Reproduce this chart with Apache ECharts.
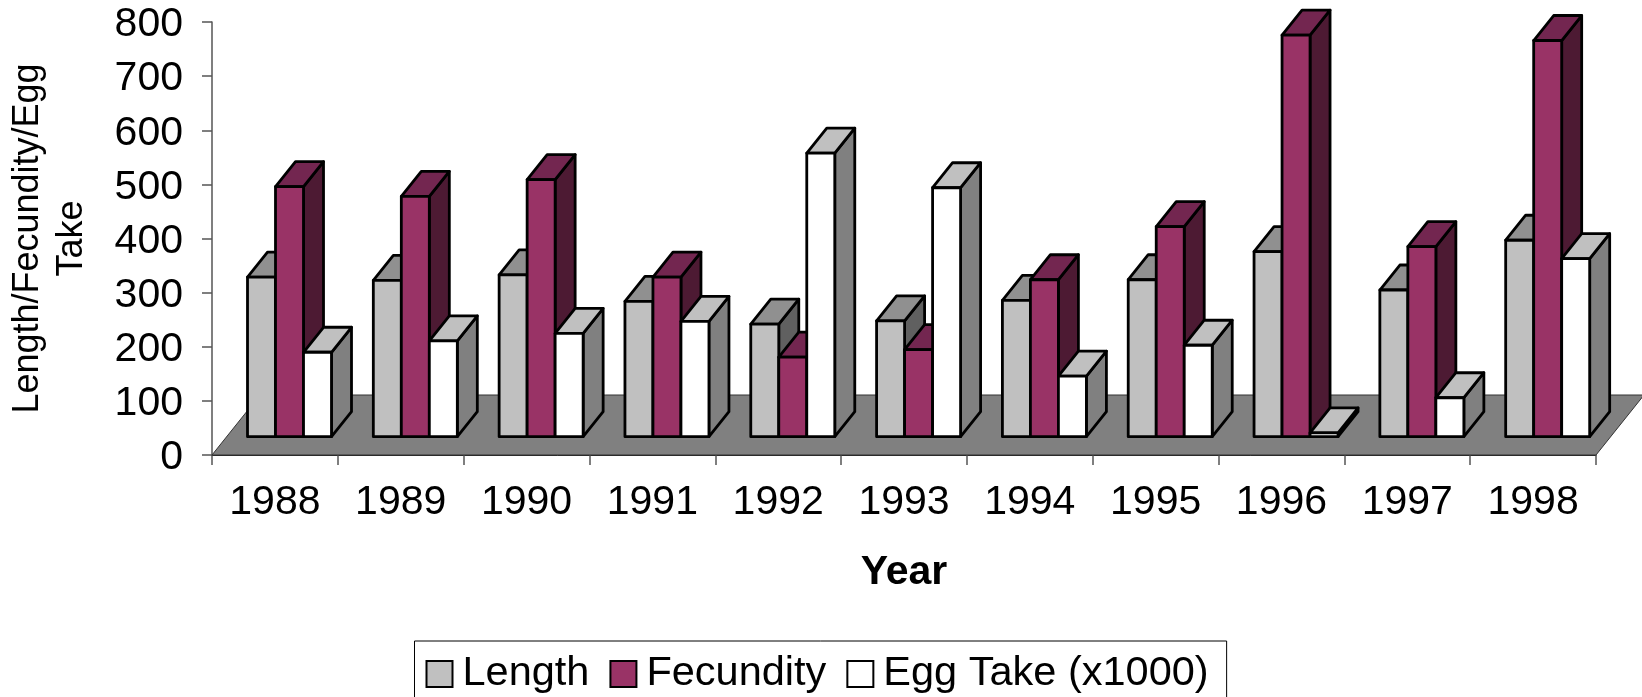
<!DOCTYPE html>
<html lang="en">

<head>
  <meta charset="UTF-8">
  <title>Length/Fecundity/Egg Take</title>
  <style>
    html, body { margin: 0; padding: 0; background: #fff; overflow: hidden; }
    #main { width: 1642px; height: 697px; }
  </style>
</head>

<body>
  <div id="main"></div>
  <script src="https://cdn.jsdelivr.net/npm/echarts@6/dist/echarts.min.js"></script>
  <script>
    var years = ['1988', '1989', '1990', '1991', '1992', '1993', '1994', '1995', '1996', '1997', '1998'];
    var yTicks = [0, 100, 200, 300, 400, 500, 600, 700, 800];
    // bar heights
    var lengthVals = [295, 289, 299, 250, 208, 214, 252, 290, 342, 271, 363];
    var fecundityVals = [462, 444, 475, 295, 147, 161, 290, 388, 742, 351, 732];
    var eggVals = [156, 177, 191, 213, 524, 460, 112, 169, 7, 72, 329];

    var FONT = '"Liberation Sans", Arial, sans-serif';
    var BAR_W = 28;      // width of one bar front
    var DEPTH_X = 20;    // bar depth, projected
    var DEPTH_Y = 25;
    var LIFT = 18.3;     // bars stand this far back on the floor
    var FLOOR_X = 48;    // floor depth, projected
    var FLOOR_Y = 60;

    var oChart = echarts.init(document.getElementById('main'));

    // one 3d column: side, top and front faces
    function barItem(colors, slot) {
      return function (params, api) {
        var band = api.size([1, 0])[0];
        var base = api.coord([api.value(0), 0]);
        var top = api.coord([api.value(0), api.value(1)]);
        var x0 = base[0] - band / 2 + 35.5 + slot * BAR_W;
        var x1 = x0 + BAR_W;
        var yb = base[1] - LIFT;
        var yt = top[1] - LIFT;
        var stroke = { stroke: '#000', lineWidth: 2.8, lineJoin: 'round' };
        function face(points, fill) {
          return {
            type: 'polygon',
            shape: { points: points },
            style: Object.assign({ fill: fill }, stroke)
          };
        }
        return {
          type: 'group',
          children: [
            face([[x1, yb], [x1 + DEPTH_X, yb - DEPTH_Y], [x1 + DEPTH_X, yt - DEPTH_Y], [x1, yt]], colors.side),
            face([[x0, yt], [x1, yt], [x1 + DEPTH_X, yt - DEPTH_Y], [x0 + DEPTH_X, yt - DEPTH_Y]], colors.top),
            face([[x0, yb], [x1, yb], [x1, yt], [x0, yt]], colors.front)
          ]
        };
      };
    }

    function barSeries(name, vals, colors, slot) {
      return {
        name: name,
        type: 'custom',
        coordinateSystem: 'cartesian2d',
        clip: false,
        silent: true,
        itemStyle: { color: colors.front },
        encode: { x: 0, y: 1 },
        renderItem: barItem(colors, slot),
        data: vals.map(function (v, i) { return [i, v]; })
      };
    }

    var floorSeries = {
      name: 'floor',
      type: 'custom',
      coordinateSystem: 'cartesian2d',
      clip: false,
      silent: true,
      encode: { x: 0, y: 1 },
      renderItem: function (params, api) {
        var band = api.size([1, 0])[0];
        var a = api.coord([0, 0]);
        var b = api.coord([years.length - 1, 0]);
        var xl = a[0] - band / 2;
        var xr = b[0] + band / 2;
        var y = a[1];
        return {
          type: 'polygon',
          shape: { points: [[xl, y], [xr, y], [xr + FLOOR_X, y - FLOOR_Y], [xl + FLOOR_X, y - FLOOR_Y]] },
          style: { fill: '#808080', stroke: '#333', lineWidth: 1 }
        };
      },
      data: [[0, 0]]
    };

    var opt = {
      animation: false,
      backgroundColor: '#fff',
      textStyle: { fontFamily: FONT, color: '#000' },
      grid: { left: 212, right: 46, top: 22, height: 433, outerBoundsMode: 'none' },
      xAxis: {
        type: 'category',
        data: years,
        name: 'Year',
        nameLocation: 'middle',
        nameGap: 97,
        nameTextStyle: { fontFamily: FONT, fontSize: 41, fontWeight: 'bold', color: '#000' },
        axisLine: { show: true, onZero: false, lineStyle: { color: '#222', width: 1 } },
        axisTick: { show: true, length: 10, lineStyle: { color: '#555', width: 1.5 } },
        axisLabel: { fontFamily: FONT, fontSize: 41, color: '#000', margin: 27, interval: 0 },
        splitLine: { show: false }
      },
      yAxis: {
        type: 'value',
        min: yTicks[0],
        max: yTicks[yTicks.length - 1],
        interval: 100,
        name: 'Length/Fecundity/Egg\nTake',
        nameLocation: 'middle',
        nameGap: 118,
        nameRotate: 90,
        nameTextStyle: { fontFamily: FONT, fontSize: 36, color: '#000', lineHeight: 44 },
        axisLine: { show: true, lineStyle: { color: '#555', width: 1.5 } },
        axisTick: { show: true, length: 10, lineStyle: { color: '#555', width: 1.5 } },
        axisLabel: {
          margin: 29,
          formatter: '{t|{value}}',
          rich: { t: { fontFamily: FONT, fontSize: 41, color: '#000', padding: [6, 0, 0, 0] } }
        },
        splitLine: { show: false }
      },
      legend: {
        data: [
          { name: 'Length', itemStyle: { borderColor: '#000', borderWidth: 2 } },
          { name: 'Fecundity', itemStyle: { borderColor: '#000', borderWidth: 2 } },
          { name: 'Egg Take (x1000)', itemStyle: { borderColor: '#000', borderWidth: 2 } }
        ],
        left: 414.5,
        top: 641,
        icon: 'rect',
        itemWidth: 26,
        itemHeight: 26,
        itemGap: 20,
        padding: [12, 18, 20, 11],
        borderColor: '#000',
        borderWidth: 1,
        selectedMode: false,
        textStyle: { fontFamily: FONT, fontSize: 41.5, color: '#000', padding: [6, 0, 0, 5] }
      },
      series: [
        floorSeries,
        barSeries('Length', lengthVals, { front: '#C0C0C0', top: '#909090', side: '#606060' }, 0),
        barSeries('Fecundity', fecundityVals, { front: '#993366', top: '#732650', side: '#4D1A33' }, 1),
        barSeries('Egg Take (x1000)', eggVals, { front: '#FFFFFF', top: '#C0C0C0', side: '#808080' }, 2)
      ]
    };

    oChart.setOption(opt);
  </script>
</body>

</html>
